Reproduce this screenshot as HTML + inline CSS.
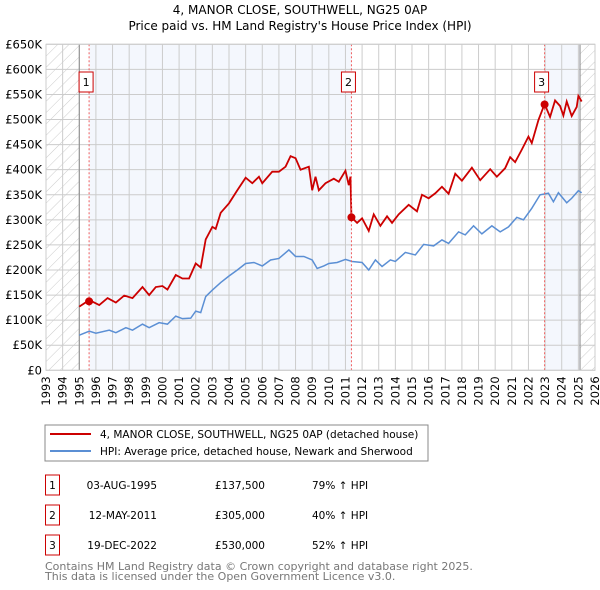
<!DOCTYPE html>
<html><head><meta charset="utf-8"><style>
body{margin:0;background:#fff;font-family:"DejaVu Sans","Liberation Sans",sans-serif}
svg{display:block}
</style></head><body>
<svg id="c" width="600" height="590" xmlns="http://www.w3.org/2000/svg">
<defs><pattern id="hatch" width="8" height="8" patternUnits="userSpaceOnUse" patternTransform="rotate(45)"><line x1="0" y1="0" x2="0" y2="8" stroke="#ccc" stroke-width="1"/></pattern></defs>
<text x="300" y="14" text-anchor="middle" font-size="12">4, MANOR CLOSE, SOUTHWELL, NG25 0AP</text>
<text x="300" y="30" text-anchor="middle" font-size="12">Price paid vs. HM Land Registry's House Price Index (HPI)</text>
<g id="plot"></g>
<rect x="45" y="425" width="383" height="36" fill="#fff" stroke="#888"/>
<line x1="50" y1="434" x2="91" y2="434" stroke="#cc0000" stroke-width="2"/>
<text x="100" y="438" font-size="10.5">4, MANOR CLOSE, SOUTHWELL, NG25 0AP (detached house)</text>
<line x1="50" y1="451" x2="91" y2="451" stroke="#5b8fd4" stroke-width="2"/>
<text x="100" y="455" font-size="10.5">HPI: Average price, detached house, Newark and Sherwood</text>
<g id="table" font-size="10.5"></g>
<text x="45" y="570" font-size="11" fill="#777">Contains HM Land Registry data © Crown copyright and database right 2025.</text>
<text x="45" y="580" font-size="11" fill="#777">This data is licensed under the Open Government Licence v3.0.</text>
</svg>
<script>
const yTicks=[0,50,100,150,200,250,300,350,400,450,500,550,600,650];
const yTickLabels=["£0","£50K","£100K","£150K","£200K","£250K","£300K","£350K","£400K","£450K","£500K","£550K","£600K","£650K"];
const years=[1993,1994,1995,1996,1997,1998,1999,2000,2001,2002,2003,2004,2005,2006,2007,2008,2009,2010,2011,2012,2013,2014,2015,2016,2017,2018,2019,2020,2021,2022,2023,2024,2025,2026];
const hpiT=[1995,1995.6,1996,1996.8,1997.2,1997.8,1998.2,1998.8,1999.2,1999.8,2000.3,2000.8,2001.2,2001.7,2002,2002.3,2002.6,2003,2003.5,2004,2004.5,2005,2005.5,2006,2006.5,2007,2007.6,2008,2008.5,2009,2009.3,2009.7,2010,2010.5,2011,2011.4,2012,2012.4,2012.8,2013.2,2013.7,2014,2014.6,2015.2,2015.7,2016.3,2016.8,2017.2,2017.8,2018.2,2018.7,2019.2,2019.8,2020.3,2020.8,2021.3,2021.7,2022.2,2022.7,2023.2,2023.5,2023.8,2024.3,2024.6,2025,2025.2];
const hpiV=[70,78,74,80,75,85,80,92,85,95,92,108,103,104,118,115,147,160,175,188,200,213,215,208,220,223,240,227,227,220,203,208,213,215,221,217,215,200,220,207,220,217,235,230,251,248,260,253,276,270,288,272,288,276,286,305,300,323,350,353,336,354,334,343,358,354];
const priceT=[1995,1995.6,1996.2,1996.7,1997.2,1997.7,1998.2,1998.8,1999.2,1999.6,2000,2000.3,2000.8,2001.2,2001.6,2002,2002.3,2002.6,2003,2003.2,2003.5,2004,2004.5,2005,2005.4,2005.8,2006,2006.6,2007,2007.4,2007.7,2008,2008.3,2008.8,2009,2009.2,2009.4,2009.8,2010.3,2010.6,2011,2011.2,2011.3,2011.36,2011.7,2012,2012.4,2012.7,2013.1,2013.5,2013.8,2014.2,2014.8,2015.3,2015.6,2016,2016.4,2016.8,2017.2,2017.6,2018,2018.6,2019.1,2019.7,2020.1,2020.6,2020.9,2021.2,2021.6,2022,2022.2,2022.6,2022.97,2023.3,2023.6,2023.9,2024.1,2024.3,2024.6,2024.9,2025,2025.2];
const priceV=[127,140,130,144,135,149,144,166,150,166,168,161,190,183,183,213,205,261,286,282,314,333,359,384,373,386,373,396,396,406,427,423,400,406,359,386,359,373,382,376,398,369,386,305,294,303,278,311,288,307,294,311,330,317,350,343,353,366,352,392,378,404,379,401,386,403,425,415,440,466,453,499,531,505,538,527,508,536,507,525,547,536];
const saleT=[1995.59,2011.36,2022.97];
const saleV=[137.5,305,530];
const saleLabels=["1","2","3"];
const saleDates=["03-AUG-1995","12-MAY-2011","19-DEC-2022"];
const salePrices=["£137,500","£305,000","£530,000"];
const salePct=["79% ↑ HPI","40% ↑ HPI","52% ↑ HPI"];

const X0=46,X1=595,Y0=370.3,Y1=44.3;
const xs=t=>X0+(t-1993)/(2026-1993)*(X1-X0);
const ys=v=>Y0-v/650*(Y0-Y1);
const NS="http://www.w3.org/2000/svg";
const plot=document.getElementById('plot');
function mk(tag,attrs,parent){const e=document.createElementNS(NS,tag);for(const k in attrs)e.setAttribute(k,attrs[k]);(parent||plot).appendChild(e);return e;}
let e;
e=mk('rect',{x:X0,y:Y1,width:X1-X0,height:Y0-Y1,fill:'#fff'});


e=mk('rect',{x:xs(1993),y:Y1,width:xs(1995)-xs(1993),height:Y0-Y1,fill:'url(#hatch)'});


e=mk('rect',{x:xs(2025.1),y:Y1,width:X1-xs(2025.1),height:Y0-Y1,fill:'url(#hatch)'});


e=mk('rect',{x:xs(saleT[0]),y:Y1,width:xs(saleT[1])-xs(saleT[0]),height:Y0-Y1,fill:'#f4f7fd'});


e=mk('rect',{x:xs(saleT[2]),y:Y1,width:xs(2025.1)-xs(saleT[2]),height:Y0-Y1,fill:'#f4f7fd'});


yTicks.forEach((v,i)=>{
 e=mk('line',{x1:X0,x2:X1,y1:ys(v),y2:ys(v),stroke:'#ccc','stroke-width':1});
 
 
 e=mk('text',{x:X0-4,y:ys(v)+4,'text-anchor':'end','font-size':'11.5'});e.textContent=yTickLabels[i];
 
 
});
years.forEach(yr=>{
 e=mk('line',{x1:xs(yr),x2:xs(yr),y1:Y1,y2:Y0,stroke:'#ccc','stroke-width':1});
 
 
 e=mk('text',{x:0,y:0,'font-size':'11.5','text-anchor':'end',transform:`translate(${xs(yr)+4},${Y0+6}) rotate(-90)`});e.textContent=yr;
 
 
});
e=mk('line',{x1:xs(1995),x2:xs(1995),y1:Y1,y2:Y0,stroke:'#888'});


e=mk('line',{x1:xs(2025.1),x2:xs(2025.1),y1:Y1,y2:Y0,stroke:'#888'});


e=mk('polyline',{points:hpiT.map((t,i)=>xs(t)+','+ys(hpiV[i])).join(' '),fill:'none',stroke:'#5b8fd4','stroke-width':1.5});


e=mk('polyline',{points:priceT.map((t,i)=>xs(t)+','+ys(priceV[i])).join(' '),fill:'none',stroke:'#cc0000','stroke-width':1.8});


saleT.forEach((t,i)=>{
 e=mk('line',{x1:xs(t),x2:xs(t),y1:Y1,y2:Y0,stroke:'#f06060','stroke-dasharray':'2,2'});
 
 
 e=mk('circle',{cx:xs(t),cy:ys(saleV[i]),r:4,fill:'#cc0000'});
 
 
 e=mk('rect',{x:xs(t)-10,y:72,width:14,height:20,fill:'#fff',stroke:'#cc0000'});
 
 
 e=mk('text',{x:xs(t)-3,y:86,'text-anchor':'middle','font-size':'11'});e.textContent=saleLabels[i];
 
 
});
e=mk('rect',{x:X0,y:Y1,width:X1-X0,height:Y0-Y1,fill:'none',stroke:'#ccc'});


const tbl=document.getElementById('table');
saleT.forEach((t,i)=>{
 const cy=485+i*30;
 e=mk('rect',{x:45.5,y:cy-10,width:14,height:20,fill:'#fff',stroke:'#cc0000'},tbl);
 
 
 e=mk('text',{x:52.5,y:cy+4,'text-anchor':'middle'},tbl);e.textContent=saleLabels[i];
 
 
 e=mk('text',{x:157,y:cy+4,'text-anchor':'end'},tbl);e.textContent=saleDates[i];
 
 
 e=mk('text',{x:265,y:cy+4,'text-anchor':'end'},tbl);e.textContent=salePrices[i];
 
 
 e=mk('text',{x:312,y:cy+4},tbl);e.textContent=salePct[i];
 
 
});
</script>
</body></html>
